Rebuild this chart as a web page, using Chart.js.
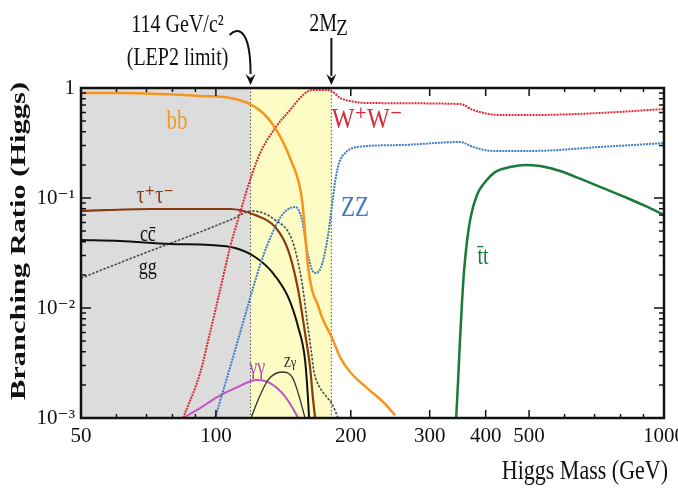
<!DOCTYPE html>
<html lang="en">
<head>
    <meta charset="UTF-8">
    <title>Higgs branching ratios</title>
    <script src="https://cdn.jsdelivr.net/npm/chart.js@4.4.1/dist/chart.umd.min.js"></script>
    <style>
        html, body { margin: 0; padding: 0; background: #fff; }
        .chart-box { position: relative; width: 678px; height: 494px; }
    </style>
</head>
<body>
    <div class="chart-box"><canvas id="brChart"></canvas></div>

    <script>
        // Axis ticks
        const massTicks = [50, 100, 200, 300, 400, 500, 1000];
        const massMinorTicks = [60, 70, 80, 90, 600, 700, 800, 900];
        const ratioTicks = [0.001, 0.01, 0.1, 1];
        const ratioTickLabels = ['10\u207B\u00B3', '10\u207B\u00B2', '10\u207B\u00B9', '1'];

        // Shaded regions: excluded (below LEP2 limit) and LEP2 .. 2M_Z
        const lep2Edge = 119.5;
        const twoMz = 181;

        // Branching ratios (mass in GeV)
        const bbMass  = [50, 61.1, 75.0, 92.2, 107.6, 119.2, 127.4, 134.2, 141.2, 147.9, 152.6, 155.7, 158.1, 160.6, 163.9, 168.2, 173.5, 181.7, 189.3, 199.3, 217.5, 236.1, 251.1];
        const bbRatio = [0.901, 0.901, 0.882, 0.846, 0.811, 0.715, 0.593, 0.461, 0.323, 0.208, 0.146, 0.0959, 0.0481, 0.0236, 0.0146, 0.0111, 0.00778, 0.00534, 0.00358, 0.00262, 0.00187, 0.0014, 0.00106];

        const wwMass  = [84.5, 92.2, 97.0, 102.2, 107.6, 113.2, 119.2, 125.5, 135.6, 146.4, 156.5, 163.9, 177.0, 182.6, 189.3, 199.3, 217.5, 350.8, 374.9, 430.8, 510.4, 720.3, 1000];
        const wwRatio = [0.001, 0.00256, 0.00593, 0.0146, 0.0359, 0.0731, 0.146, 0.256, 0.433, 0.631, 0.864, 0.959, 0.959, 0.920, 0.811, 0.762, 0.730, 0.715, 0.631, 0.568, 0.568, 0.593, 0.644];

        const zzMass  = [99.6, 110.4, 119.2, 125.5, 130.8, 140.5, 150.2, 155.7, 159.7, 163.9, 167.3, 172.6, 178.0, 181.7, 184.5, 188.3, 194.2, 206.6, 257.6, 350.8, 374.9, 415.6, 510.4, 720.3, 1000];
        const zzRatio = [0.001, 0.00415, 0.0123, 0.0246, 0.039, 0.0701, 0.0828, 0.0631, 0.0337, 0.0222, 0.0208, 0.0251, 0.0461, 0.0864, 0.140, 0.208, 0.256, 0.291, 0.303, 0.323, 0.291, 0.268, 0.268, 0.291, 0.316];

        const tauMass  = [50, 71.3, 107.6, 122.3, 135.6, 144.9, 152.6, 158.1, 162.2, 164.8, 166.5];
        const tauRatio = [0.0762, 0.0794, 0.0794, 0.0701, 0.0545, 0.0337, 0.0146, 0.00593, 0.00291, 0.00146, 0.001];

        const ccMass  = [50, 61.1, 79.0, 97.0, 110.4, 122.3, 133.5, 144.9, 152.6, 158.1, 160.6, 161.4];
        const ccRatio = [0.0415, 0.0407, 0.0382, 0.0374, 0.0351, 0.0291, 0.0212, 0.0126, 0.00672, 0.00337, 0.00146, 0.001];

        const ggMass  = [50, 71.3, 92.2, 107.6, 120.4, 135.6, 147.9, 155.7, 159.7, 163.1, 165.6, 169.9, 176.1, 181.7, 187.4];
        const ggRatio = [0.0187, 0.033, 0.0491, 0.0631, 0.0762, 0.0631, 0.0415, 0.0169, 0.00778, 0.00415, 0.00262, 0.00195, 0.00158, 0.00134, 0.001];

        const zgMass  = [119.8, 124.2, 130.8, 140.5, 147.9, 152.6, 158.1];
        const zgRatio = [0.001, 0.00146, 0.00222, 0.00262, 0.00236, 0.00169, 0.001];

        const gamMass  = [84.5, 92.2, 100.6, 110.4, 123.6, 130.8, 140.5, 147.9, 152.6];
        const gamRatio = [0.001, 0.00123, 0.00155, 0.00187, 0.00222, 0.00212, 0.00169, 0.00126, 0.001];

        const ttMass  = [343.7, 347.2, 350.8, 354.4, 358.1, 363.7, 371.2, 382.7, 398.8, 419.8, 453.5, 489.8, 529.1, 586.4, 660.0, 739.0, 827.4, 907.7, 1000];
        const ttRatio = [0.001, 0.00222, 0.00545, 0.0118, 0.0222, 0.0415, 0.0701, 0.107, 0.140, 0.172, 0.191, 0.2, 0.195, 0.176, 0.146, 0.121, 0.1, 0.0846, 0.0701];

        // Inline curve labels (placed in data coordinates)
        const curveLabels = [
            { text: 'bb', mass: 81.9, ratio: 0.491, color: '#f39a1e', size: 21 },
            { text: '\u03C4\u207A\u03C4\u207B', mass: 73.2, ratio: 0.104, color: '#8a3a12', size: 20 },
            { text: 'cc\u0304', mass: 70.5, ratio: 0.0461, color: '#111', size: 18 },
            { text: 'gg', mass: 70.5, ratio: 0.0231, color: '#111', size: 18 },
            { text: '\u03B3\u03B3', mass: 123.6, ratio: 0.00285, color: '#b04ab0', size: 18 },
            { text: 'Z\u03B3', mass: 146.4, ratio: 0.00316, color: '#222', size: 12 },
            { text: 'W\u207AW\u207B', mass: 217.5, ratio: 0.512, color: '#d8283c', size: 24 },
            { text: 'ZZ', mass: 204.5, ratio: 0.0811, color: '#3d7cc4', size: 23 },
            { text: 't\u0304t', mass: 394.7, ratio: 0.0291, color: '#1a7a3c', size: 20 }
        ];

        const serif = '"Liberation Serif", "DejaVu Serif", serif';

        function pairs(xs, ys) {
            return xs.map((x, i) => ({ x: x, y: ys[i] }));
        }

        function curve(label, xs, ys, color, width, dash) {
            return {
                label: label,
                data: pairs(xs, ys),
                borderColor: color,
                borderWidth: width,
                borderDash: dash || [],
                pointRadius: 0,
                fill: false,
                cubicInterpolationMode: 'monotone'
            };
        }

        // text stretched vertically a bit, like the original figure
        function drawText(ctx, text, x, y, size, color, opts) {
            opts = opts || {};
            ctx.save();
            ctx.font = (opts.bold ? 'bold ' : '') + size + 'px ' + serif;
            ctx.fillStyle = color;
            ctx.textAlign = opts.align || 'center';
            ctx.textBaseline = 'middle';
            ctx.translate(x, y);
            if (opts.rotate) ctx.rotate(opts.rotate);
            ctx.scale(opts.sx || 1, opts.sy || 1.25);
            ctx.fillText(text, 0, 0);
            ctx.restore();
        }

        function arrowHead(ctx, x, y) {
            ctx.beginPath();
            ctx.moveTo(x - 5, y - 11);
            ctx.lineTo(x, y);
            ctx.lineTo(x + 5, y - 11);
            ctx.lineTo(x, y - 7);
            ctx.closePath();
            ctx.fill();
        }

        const decor = {
            id: 'decor',
            beforeDatasetsDraw(chart) {
                const { ctx, chartArea: a, scales: { x } } = chart;
                const xl = x.getPixelForValue(lep2Edge);
                const xr = x.getPixelForValue(twoMz);
                ctx.save();
                ctx.fillStyle = '#dcdcdc';
                ctx.fillRect(a.left, a.top, xl - a.left, a.bottom - a.top);
                ctx.fillStyle = '#fdfcc4';
                ctx.fillRect(xl, a.top, xr - xl, a.bottom - a.top);
                ctx.strokeStyle = '#555';
                ctx.lineWidth = 1;
                ctx.setLineDash([1.5, 2]);
                [xl, xr].forEach(px => {
                    ctx.beginPath();
                    ctx.moveTo(px, a.top);
                    ctx.lineTo(px, a.bottom);
                    ctx.stroke();
                });
                ctx.restore();
            },
            afterDatasetsDraw(chart) {
                const { ctx, chartArea: a, scales: { x, y } } = chart;
                ctx.save();

                // inward tick marks on all four sides
                ctx.strokeStyle = '#111';
                ctx.lineWidth = 1.5;
                const tickX = (v, len) => {
                    const px = x.getPixelForValue(v);
                    ctx.beginPath();
                    ctx.moveTo(px, a.bottom); ctx.lineTo(px, a.bottom - len);
                    ctx.moveTo(px, a.top); ctx.lineTo(px, a.top + len);
                    ctx.stroke();
                };
                const tickY = (v, len) => {
                    const py = y.getPixelForValue(v);
                    ctx.beginPath();
                    ctx.moveTo(a.left, py); ctx.lineTo(a.left + len, py);
                    ctx.moveTo(a.right, py); ctx.lineTo(a.right - len, py);
                    ctx.stroke();
                };
                massTicks.forEach(v => tickX(v, 8));
                massMinorTicks.forEach(v => tickX(v, 4));
                ratioTicks.forEach(v => tickY(v, 10));
                ratioTicks.slice(0, 3).forEach(d => {
                    for (let m = 2; m <= 9; m++) tickY(d * m, 5);
                });

                // frame
                ctx.lineWidth = 2.5;
                ctx.strokeRect(a.left, a.top, a.right - a.left, a.bottom - a.top);

                // curve labels
                curveLabels.forEach(l => {
                    drawText(ctx, l.text, x.getPixelForValue(l.mass), y.getPixelForValue(l.ratio), l.size, l.color);
                });

                // axis titles
                drawText(ctx, 'Branching Ratio (Higgs)', 20, (a.top + a.bottom) / 2 - 12, 21, '#111',
                    { bold: true, rotate: -Math.PI / 2, sx: 1.45, sy: 1 });
                drawText(ctx, 'Higgs Mass (GeV)', a.right + 4, 472, 22, '#111', { align: 'right', sy: 1.2 });

                // LEP2 limit annotation with curved arrow
                const xl = x.getPixelForValue(lep2Edge);
                drawText(ctx, '114 GeV/c\u00B2', xl - 73, a.top - 63, 20, '#111');
                drawText(ctx, '(LEP2 limit)', xl - 73, a.top - 30, 20, '#111');
                ctx.fillStyle = '#111';
                ctx.lineWidth = 2;
                ctx.beginPath();
                ctx.moveTo(xl - 21, a.top - 53);
                ctx.bezierCurveTo(xl - 12, a.top - 62, xl, a.top - 58, xl, a.top - 14);
                ctx.stroke();
                arrowHead(ctx, xl, a.top - 3);

                // 2 M_Z marker
                const xz = x.getPixelForValue(twoMz);
                drawText(ctx, '2M', xz - 22, a.top - 64, 20, '#111', { align: 'left' });
                drawText(ctx, 'Z', xz + 5, a.top - 59, 19, '#111', { align: 'left' });
                ctx.beginPath();
                ctx.moveTo(xz, a.top - 50);
                ctx.lineTo(xz, a.top - 12);
                ctx.stroke();
                arrowHead(ctx, xz, a.top - 3);

                ctx.restore();
            }
        };

        const ctx = document.getElementById('brChart').getContext('2d');
        new Chart(ctx, {
            type: 'line',
            data: {
                datasets: [
                    curve('b\u0304b', bbMass, bbRatio, '#f7941d', 2.5),
                    curve('W+W-', wwMass, wwRatio, '#d8283c', 2, [2, 1]),
                    curve('ZZ', zzMass, zzRatio, '#3d7cc4', 2, [2, 1]),
                    curve('tau tau', tauMass, tauRatio, '#8a3a12', 2.2),
                    curve('c c', ccMass, ccRatio, '#111', 2),
                    curve('gg', ggMass, ggRatio, '#4a4a4a', 1.6, [2.5, 1.5]),
                    curve('Z gamma', zgMass, zgRatio, '#333', 1.3),
                    curve('gamma gamma', gamMass, gamRatio, '#c054c0', 2),
                    curve('t t', ttMass, ttRatio, '#1a7a3c', 2.5)
                ]
            },
            options: {
                responsive: true,
                maintainAspectRatio: false,
                animation: false,
                layout: { padding: { top: 88, right: 14, left: 0, bottom: 0 } },
                plugins: {
                    legend: { display: false },
                    tooltip: { enabled: false }
                },
                scales: {
                    x: {
                        type: 'logarithmic',
                        min: 50,
                        max: 1000,
                        grid: { display: false, drawTicks: false },
                        border: { display: false },
                        afterBuildTicks: s => { s.ticks = massTicks.map(v => ({ value: v })); },
                        afterFit: s => { s.height = 76; s.paddingLeft = 0; s.paddingRight = 0; },
                        ticks: {
                            autoSkip: false,
                            maxRotation: 0,
                            padding: 6,
                            color: '#111',
                            font: { family: serif, size: 21 },
                            callback: v => String(v)
                        }
                    },
                    y: {
                        type: 'logarithmic',
                        min: 0.001,
                        max: 1,
                        grid: { display: false, drawTicks: false },
                        border: { display: false },
                        afterBuildTicks: s => { s.ticks = ratioTicks.map(v => ({ value: v })); },
                        afterFit: s => { s.width = 81; s.paddingTop = 0; s.paddingBottom = 0; },
                        ticks: {
                            autoSkip: false,
                            padding: 6,
                            color: '#111',
                            font: { family: serif, size: 21 },
                            callback: v => ratioTickLabels[ratioTicks.indexOf(v)]
                        }
                    }
                }
            },
            plugins: [decor]
        });
    </script>
</body>
</html>
